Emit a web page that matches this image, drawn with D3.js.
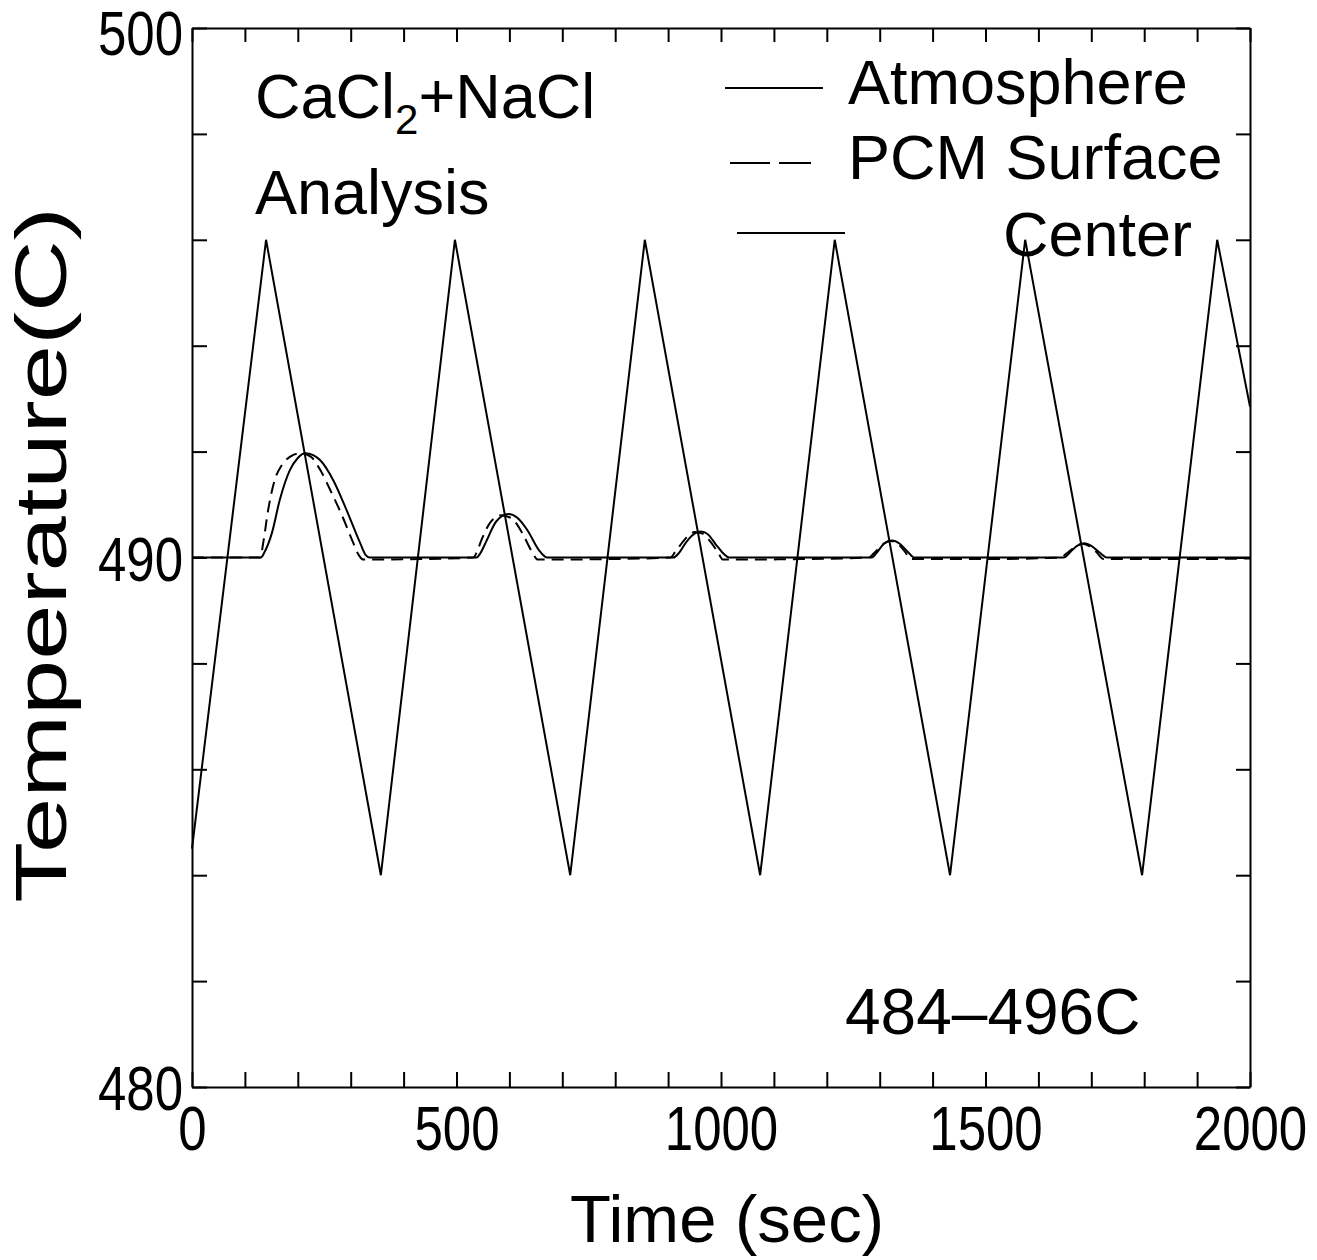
<!DOCTYPE html>
<html>
<head>
<meta charset="utf-8">
<script src="https://cdn.jsdelivr.net/npm/d3@7"></script>
<style>
  body { margin: 0; background: #fff; }
  svg { display: block; font-family: "Liberation Sans", Arial, sans-serif; }
</style>
</head>
<body>
<div id="chart"></div>
<script>
// time (sec) and temperature (C)
const atmTime = [0, 140, 357, 497, 715, 856, 1074, 1215, 1433, 1575, 1796, 1938, 2000];
const atmTemp = [484.5, 496, 484, 496, 484, 496, 484, 496, 484, 496, 484, 496, 492.85];

const centerTime = [0, 130, 137, 151, 166, 185, 200, 214, 230, 242, 267, 292, 318, 328, 336,
  538, 545, 556, 575, 598, 615, 635, 655, 671,
  910, 920, 935, 950, 962, 975, 990, 1005, 1015,
  1285, 1295, 1308, 1323, 1338, 1352, 1366,
  1648, 1660, 1673, 1687, 1700, 1715, 1730, 2000];
const centerTemp = [490, 490, 490.1, 490.46, 491.09, 491.65, 491.88, 491.97, 491.93, 491.84, 491.46, 490.9, 490.27, 490.05, 490,
  490, 490.08, 490.3, 490.68, 490.82, 490.75, 490.5, 490.15, 490,
  490, 490.08, 490.3, 490.45, 490.49, 490.44, 490.25, 490.07, 490,
  490, 490.1, 490.26, 490.32, 490.26, 490.12, 490,
  490, 490.1, 490.22, 490.27, 490.22, 490.1, 490, 490];

const surfaceTime = [0, 129, 135, 144, 156, 170, 185, 205, 225, 242, 262, 285, 303, 315, 324, 430,
  532, 539, 548, 563, 585, 605, 625, 642, 654, 790,
  905, 913, 922, 935, 950, 965, 980, 994, 1004, 1150,
  1280, 1288, 1297, 1309, 1321, 1334, 1347, 1359, 1500,
  1643, 1651, 1660, 1672, 1684, 1697, 1710, 1723, 1860, 2000];
const surfaceTemp = [490, 490, 490.3, 490.9, 491.45, 491.75, 491.9, 491.97, 491.9, 491.66, 491.26, 490.76, 490.32, 490.05, 489.96, 489.97,
  490, 490.12, 490.35, 490.65, 490.8, 490.73, 490.45, 490.12, 489.96, 489.97,
  490, 490.1, 490.22, 490.38, 490.48, 490.45, 490.3, 490.1, 489.96, 489.97,
  490, 490.07, 490.16, 490.27, 490.31, 490.26, 490.12, 489.97, 489.97,
  490, 490.06, 490.13, 490.22, 490.26, 490.21, 490.1, 489.97, 489.97, 489.98];

const xTicks = d3.range(0, 2001, 100);
const xLabels = [0, 500, 1000, 1500, 2000];
const yTicks = d3.range(480, 501, 2);
const yLabels = [480, 490, 500];

const width = 1317, height = 1260;
const svg = d3.select('#chart').append('svg')
  .attr('width', width)
  .attr('height', height);

const x = d3.scaleLinear().domain([0, 2000]).range([192, 1250]);
const y = d3.scaleLinear().domain([480, 500]).range([1087, 28]);

function styleAxis(g, fs) {
  g.attr('font-size', fs).attr('font-family', null);
  g.selectAll('line, path').attr('stroke', '#000').attr('stroke-width', 2);
  g.selectAll('text').attr('fill', '#000');
}

// bottom
const bx = svg.append('g')
  .attr('transform', 'translate(0,' + y(480) + ')')
  .call(d3.axisBottom(x).tickValues(xTicks).tickSizeInner(-15).tickSizeOuter(0)
    .tickFormat(d => xLabels.includes(d) ? d : ''))
  .call(styleAxis, 51);
// labels in the scan are a bit taller than wide
bx.selectAll('text').attr('y', 0).attr('dy', '0.36em')
  .attr('transform', 'translate(0,40) scale(1,1.25)');
// top
svg.append('g')
  .attr('transform', 'translate(0,' + y(500) + ')')
  .call(d3.axisTop(x).tickValues(xTicks).tickSizeInner(-14).tickSizeOuter(0).tickFormat(''))
  .call(styleAxis, 50);
// left
const ly = svg.append('g')
  .attr('transform', 'translate(' + x(0) + ',0)')
  .call(d3.axisLeft(y).tickValues(yTicks).tickSizeInner(-15).tickSizeOuter(0).tickPadding(9)
    .tickFormat(d => yLabels.includes(d) ? d : ''))
  .call(styleAxis, 51);
ly.selectAll('text').attr('dy', '0.36em')
  .attr('transform', d => d === 500 ? 'translate(0,4) scale(1,1.22)' : 'scale(1,1.25)');
// right
svg.append('g')
  .attr('transform', 'translate(' + x(2000) + ',0)')
  .call(d3.axisRight(y).tickValues(yTicks).tickSizeInner(-14).tickSizeOuter(0).tickFormat(''))
  .call(styleAxis, 50);

// axis titles
svg.append('text')
  .attr('transform', 'translate(66,555) rotate(-90) scale(1.38,1)')
  .attr('text-anchor', 'middle')
  .attr('font-size', 72)
  .text('Temperature(C)');

svg.append('text')
  .attr('x', 727).attr('y', 1242)
  .attr('text-anchor', 'middle')
  .attr('font-size', 67)
  .text('Time (sec)');

// series
const line = d3.line().x(d => x(d[0])).y(d => y(d[1]));
const smooth = d3.line().x(d => x(d[0])).y(d => y(d[1])).curve(d3.curveMonotoneX);

svg.append('path')
  .datum(d3.zip(centerTime, centerTemp))
  .attr('fill', 'none').attr('stroke', '#000').attr('stroke-width', 2)
  .attr('d', smooth);

svg.append('path')
  .datum(d3.zip(surfaceTime, surfaceTemp))
  .attr('fill', 'none').attr('stroke', '#000').attr('stroke-width', 2)
  .attr('stroke-dasharray', '12,7')
  .attr('d', smooth);

svg.append('path')
  .datum(d3.zip(atmTime, atmTemp))
  .attr('fill', 'none').attr('stroke', '#000').attr('stroke-width', 2)
  .attr('d', line);

// annotations
const t1 = svg.append('text').attr('x', 255).attr('y', 118).attr('font-size', 63);
t1.append('tspan').text('CaCl');
t1.append('tspan').attr('font-size', 42).attr('dy', 16).text('2');
t1.append('tspan').attr('dy', -16).text('+NaCl');

svg.append('text').attr('x', 255).attr('y', 214).attr('font-size', 63).text('Analysis');
svg.append('text').attr('x', 845).attr('y', 1034).attr('font-size', 64).text('484\u2013496C');

// legend
const legend = svg.append('g').attr('font-size', 63);
legend.append('line').attr('x1', 725).attr('x2', 823).attr('y1', 88).attr('y2', 88)
  .attr('stroke', '#000').attr('stroke-width', 2);
legend.append('text').attr('x', 848).attr('y', 104).text('Atmosphere');

legend.append('line').attr('x1', 730).attr('x2', 811).attr('y1', 163).attr('y2', 163)
  .attr('stroke', '#000').attr('stroke-width', 2).attr('stroke-dasharray', '40,9');
legend.append('text').attr('x', 848).attr('y', 179).text('PCM Surface');

legend.append('line').attr('x1', 737).attr('x2', 845).attr('y1', 233).attr('y2', 233)
  .attr('stroke', '#000').attr('stroke-width', 2);
legend.append('text').attr('x', 1003).attr('y', 256).text('Center');
</script>
</body>
</html>
